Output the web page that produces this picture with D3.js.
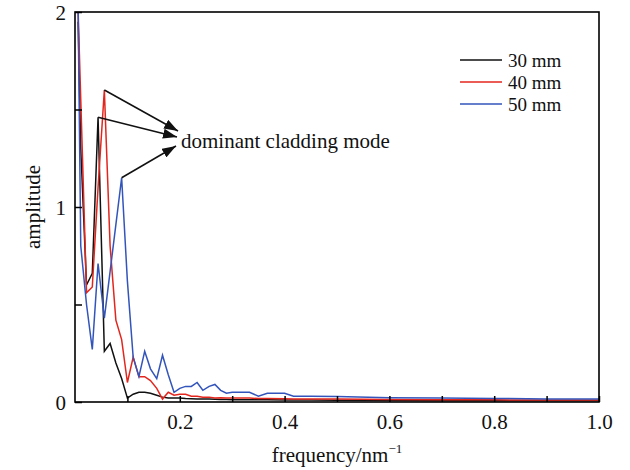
<!DOCTYPE html>
<html>
<head>
<meta charset="utf-8">
<script src="https://cdn.jsdelivr.net/npm/d3@7"></script>
<style>
  body { margin: 0; background: #fff; }
  svg { font-family: "Liberation Serif", "Times New Roman", serif; }
</style>
</head>
<body>
<svg id="chart" width="630" height="470"></svg>
<script>
// frequency samples (nm^-1)
var freq = [0.006, 0.011, 0.022, 0.033, 0.044, 0.056, 0.067, 0.078, 0.089,
    0.100, 0.111, 0.122, 0.133, 0.144, 0.156, 0.167, 0.178, 0.189,
    0.200, 0.211, 0.222, 0.233, 0.244, 0.256, 0.267, 0.278, 0.289, 0.300,
    0.333, 0.350, 0.367, 0.400, 0.417, 0.450, 0.500, 0.600, 0.700, 0.800, 0.900, 1.000];

var amp30 = [1.95, 1.3, 0.60, 0.66, 1.46, 0.26, 0.30, 0.20, 0.12,
    0.02, 0.04, 0.05, 0.05, 0.045, 0.035, 0.025, 0.02, 0.02,
    0.02, 0.018, 0.017, 0.016, 0.015, 0.015, 0.014, 0.013, 0.013, 0.012,
    0.012, 0.011, 0.011, 0.01, 0.01, 0.01, 0.009, 0.008, 0.007, 0.007, 0.006, 0.006];

var amp40 = [2.0, 1.55, 0.56, 0.59, 1.10, 1.60, 0.80, 0.42, 0.32,
    0.10, 0.23, 0.13, 0.13, 0.11, 0.07, 0.015, 0.05, 0.035,
    0.04, 0.04, 0.03, 0.03, 0.025, 0.025, 0.02, 0.022, 0.02, 0.02,
    0.02, 0.018, 0.018, 0.017, 0.016, 0.015, 0.015, 0.013, 0.012, 0.011, 0.010, 0.010];

var amp50 = [2.0, 0.80, 0.50, 0.27, 0.71, 0.43, 0.67, 0.91, 1.15,
    0.62, 0.23, 0.13, 0.26, 0.17, 0.12, 0.24, 0.14, 0.05,
    0.07, 0.08, 0.08, 0.10, 0.06, 0.08, 0.09, 0.06, 0.045, 0.05,
    0.05, 0.03, 0.045, 0.045, 0.03, 0.03, 0.028, 0.022, 0.02, 0.018, 0.016, 0.015];

var seriesNames = ["30 mm", "40 mm", "50 mm"];
var seriesColors = ["#111111", "#e3261d", "#3355bb"];
var xTicks = [0.1, 0.2, 0.3, 0.4, 0.5, 0.6, 0.7, 0.8, 0.9, 1.0];
var yTicks = [0, 0.5, 1, 1.5, 2];
var annotation = "dominant cladding mode";

var dimensions = {
    width: 630,
    height: 470,
    margin: { top: 12, bottom: 68, right: 31, left: 75 }
};

var svg = d3.select("#chart");

var xScale = d3.scaleLinear()
    .domain([0, 1])
    .range([dimensions.margin.left, dimensions.width - dimensions.margin.right]);

var yScale = d3.scaleLinear()
    .domain([0, 2])
    .range([dimensions.height - dimensions.margin.bottom, dimensions.margin.top]);

var bottomY = dimensions.height - dimensions.margin.bottom;

svg.append("defs").append("clipPath")
    .attr("id", "plotclip")
    .append("rect")
    .attr("x", xScale(0))
    .attr("y", yScale(2))
    .attr("width", xScale(1) - xScale(0))
    .attr("height", yScale(0) - yScale(2));

// lines
var allSeries = [amp30, amp40, amp50];
var line = d3.line()
    .x((d, i) => xScale(freq[i]))
    .y(d => yScale(d));

svg.append("g")
    .attr("clip-path", "url(#plotclip)")
    .selectAll("path")
    .data(allSeries)
    .enter()
    .append("path")
    .attr("d", d => line(d))
    .attr("fill", "none")
    .attr("stroke", (d, i) => seriesColors[i])
    .attr("stroke-width", 1.5)
    .attr("stroke-linejoin", "miter");

// x axis (ticks pointing inwards)
var xAxis = d3.axisBottom(xScale)
    .tickValues(xTicks)
    .tickSizeInner(-6)
    .tickSizeOuter(0)
    .tickPadding(12)
    .tickFormat(d => (Math.round(d * 10) % 2 === 0) ? d.toFixed(1) : "");
var gx = svg.append("g")
    .attr("transform", `translate(0, ${bottomY})`)
    .call(xAxis);

var yAxis = d3.axisLeft(yScale)
    .tickValues(yTicks)
    .tickSizeInner(-7)
    .tickSizeOuter(0)
    .tickPadding(9)
    .tickFormat(d => (d % 1 === 0) ? d3.format("d")(d) : "");
var gy = svg.append("g")
    .attr("transform", `translate(${dimensions.margin.left}, 0)`)
    .call(yAxis);

[gx, gy].forEach(g => {
    g.select(".domain").remove();
    g.selectAll("line").attr("stroke", "#000").attr("stroke-width", 1.5);
    g.selectAll("text")
        .attr("fill", "#111")
        .style("font-size", "21px")
        .style("font-family", "'Liberation Serif', serif");
});
gy.selectAll("text").attr("dy", "0.36em");

// frame
svg.append("rect")
    .attr("x", xScale(0))
    .attr("y", yScale(2))
    .attr("width", xScale(1) - xScale(0))
    .attr("height", yScale(0) - yScale(2))
    .attr("fill", "none")
    .attr("stroke", "#000")
    .attr("stroke-width", 1.6);

// axis titles
svg.append("text")
    .attr("transform", `translate(40, ${(yScale(0) + yScale(2)) / 2}) rotate(-90)`)
    .attr("text-anchor", "middle")
    .attr("fill", "#111")
    .style("font-size", "21px")
    .text("amplitude");

var xTitle = svg.append("text")
    .attr("x", (xScale(0) + xScale(1)) / 2)
    .attr("y", 462)
    .attr("text-anchor", "middle")
    .attr("fill", "#111")
    .style("font-size", "21px");
xTitle.append("tspan").text("frequency/nm");
xTitle.append("tspan").attr("dy", -9).style("font-size", "13px").text("\u22121");

// legend
var legend = svg.append("g");
seriesNames.forEach((name, i) => {
    var ly = 60 + i * 22;
    legend.append("line")
        .attr("x1", 460).attr("x2", 502)
        .attr("y1", ly).attr("y2", ly)
        .attr("stroke", seriesColors[i])
        .attr("stroke-width", 1.5);
    legend.append("text")
        .attr("x", 508)
        .attr("y", ly + 6.5)
        .attr("fill", "#111")
        .style("font-size", "19px")
        .text(name);
});

// annotation with arrows from the three peaks
svg.append("defs").append("marker")
    .attr("id", "arrow")
    .attr("viewBox", "0 0 14 10")
    .attr("refX", 14)
    .attr("refY", 5)
    .attr("markerWidth", 14)
    .attr("markerHeight", 10)
    .attr("markerUnits", "userSpaceOnUse")
    .attr("orient", "auto")
    .append("path")
    .attr("d", "M0,0 L14,5 L0,10 z")
    .attr("fill", "#111");

svg.append("text")
    .attr("x", 181)
    .attr("y", 148)
    .attr("fill", "#111")
    .style("font-size", "21px")
    .text(annotation);

var arrows = [
    { from: [freq[5], amp40[5]], to: [178, 131] },
    { from: [freq[4], amp30[4]], to: [177, 137] },
    { from: [freq[8], amp50[8]], to: [176, 146] }
];
svg.selectAll(".arrow")
    .data(arrows)
    .enter()
    .append("line")
    .attr("class", "arrow")
    .attr("x1", d => xScale(d.from[0]))
    .attr("y1", d => yScale(d.from[1]))
    .attr("x2", d => d.to[0])
    .attr("y2", d => d.to[1])
    .attr("stroke", "#111")
    .attr("stroke-width", 1.5)
    .attr("marker-end", "url(#arrow)");
</script>
</body>
</html>
